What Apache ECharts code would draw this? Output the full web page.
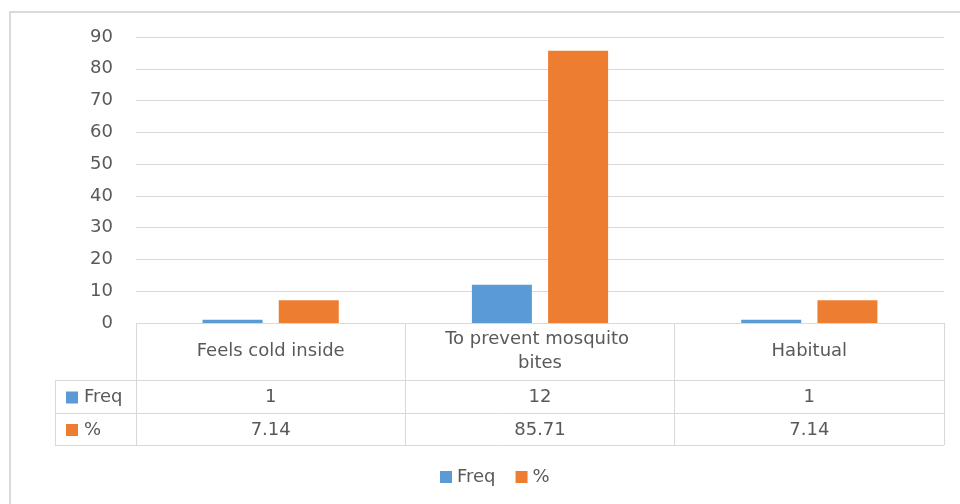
<!DOCTYPE html>
<html>
<head>
<meta charset="utf-8">
<script src="https://cdn.jsdelivr.net/npm/echarts@6/dist/echarts.min.js"></script>
<style>
html,body{margin:0;padding:0;background:#fff;}
#chart{width:960px;height:504px;}
</style>
</head>
<body>
<div id="chart"></div>
<script>
const categories = ["Feels cold inside", "To prevent mosquito bites", "Habitual"];
const freqValues = [1, 12, 1];
const pctValues = [7.14, 85.71, 7.14];
const pctLabels = ["7.14", "85.71", "7.14"];
const seriesNames = ["Freq", "%"];
const yTicks = [0, 90, 10];

const FONT = "DejaVu Sans";
const FS = 18;
const TXT = "#595959";
const LINE = "#D9D9D9";
const BLUE = "#5B9BD5";
const ORANGE = "#ED7D31";

const chart = echarts.init(document.getElementById('chart'));
const gridL = 136, gridR = 944, gridT = 37, gridB = 323;

chart.setOption({
  animation: false,
  textStyle: { fontFamily: FONT },
  grid: { left: gridL, right: 960 - gridR, top: gridT, bottom: 504 - gridB },
  legend: {
    data: seriesNames,
    left: 435, top: 463,
    icon: 'rect', itemWidth: 12, itemHeight: 12, itemGap: 20,
    textStyle: { color: TXT, fontSize: FS, fontFamily: FONT }
  },
  xAxis: {
    type: 'category',
    data: categories,
    axisLine: { lineStyle: { color: LINE, width: 1 } },
    axisTick: { show: true, length: 122, interval: 0, lineStyle: { color: LINE } },
    axisLabel: {
      interval: 0, margin: 28, verticalAlign: 'middle',
      color: TXT, fontSize: FS, fontFamily: FONT, lineHeight: 24,
      width: 225, overflow: 'break'
    }
  },
  yAxis: {
    type: 'value', min: yTicks[0], max: yTicks[1], interval: yTicks[2],
    axisLine: { show: false }, axisTick: { show: false },
    splitLine: { lineStyle: { color: LINE, width: 1 } },
    axisLabel: { color: TXT, fontSize: FS, fontFamily: FONT, margin: 23 }
  },
  series: [
    { name: seriesNames[0], type: 'bar', data: freqValues, barWidth: 60, barGap: '27%',
      itemStyle: { color: BLUE } },
    { name: seriesNames[1], type: 'bar', data: pctValues, barWidth: 60,
      itemStyle: { color: ORANGE } }
  ]
});

// data table
const rowTop = 380, rowMid = 413, rowBot = 445, tableLeft = 55;
const els = [];
els.push({ type: 'rect', shape: { x: 10, y: 12, width: 970, height: 520 },
  style: { fill: null, stroke: LINE, lineWidth: 2 }, silent: true });
[rowTop, rowMid, rowBot].forEach(y => {
  els.push({ type: 'line', shape: { x1: tableLeft, y1: y + 0.5, x2: gridR, y2: y + 0.5 },
    style: { stroke: LINE, lineWidth: 1 } });
});
els.push({ type: 'line', shape: { x1: tableLeft + 0.5, y1: rowTop, x2: tableLeft + 0.5, y2: rowBot },
  style: { stroke: LINE, lineWidth: 1 } });
const rows = [
  { name: seriesNames[0], color: BLUE, vals: freqValues.map(String), y: (rowTop + rowMid) / 2 + 1 },
  { name: seriesNames[1], color: ORANGE, vals: pctLabels, y: (rowMid + rowBot) / 2 + 1 }
];
rows.forEach(r => {
  els.push({ type: 'rect', shape: { x: 66, y: r.y - 6, width: 12, height: 12 }, style: { fill: r.color } });
  els.push({ type: 'text', x: 84, y: r.y, style: { text: r.name, fill: TXT, font: FS + 'px ' + FONT,
    textAlign: 'left', textVerticalAlign: 'middle' } });
  r.vals.forEach((v, i) => {
    const cx = chart.convertToPixel({ xAxisIndex: 0 }, categories[i]);
    els.push({ type: 'text', x: cx, y: r.y, style: { text: v, fill: TXT, font: FS + 'px ' + FONT,
      textAlign: 'center', textVerticalAlign: 'middle' } });
  });
});
chart.setOption({ graphic: { elements: els } });
</script>
</body>
</html>
